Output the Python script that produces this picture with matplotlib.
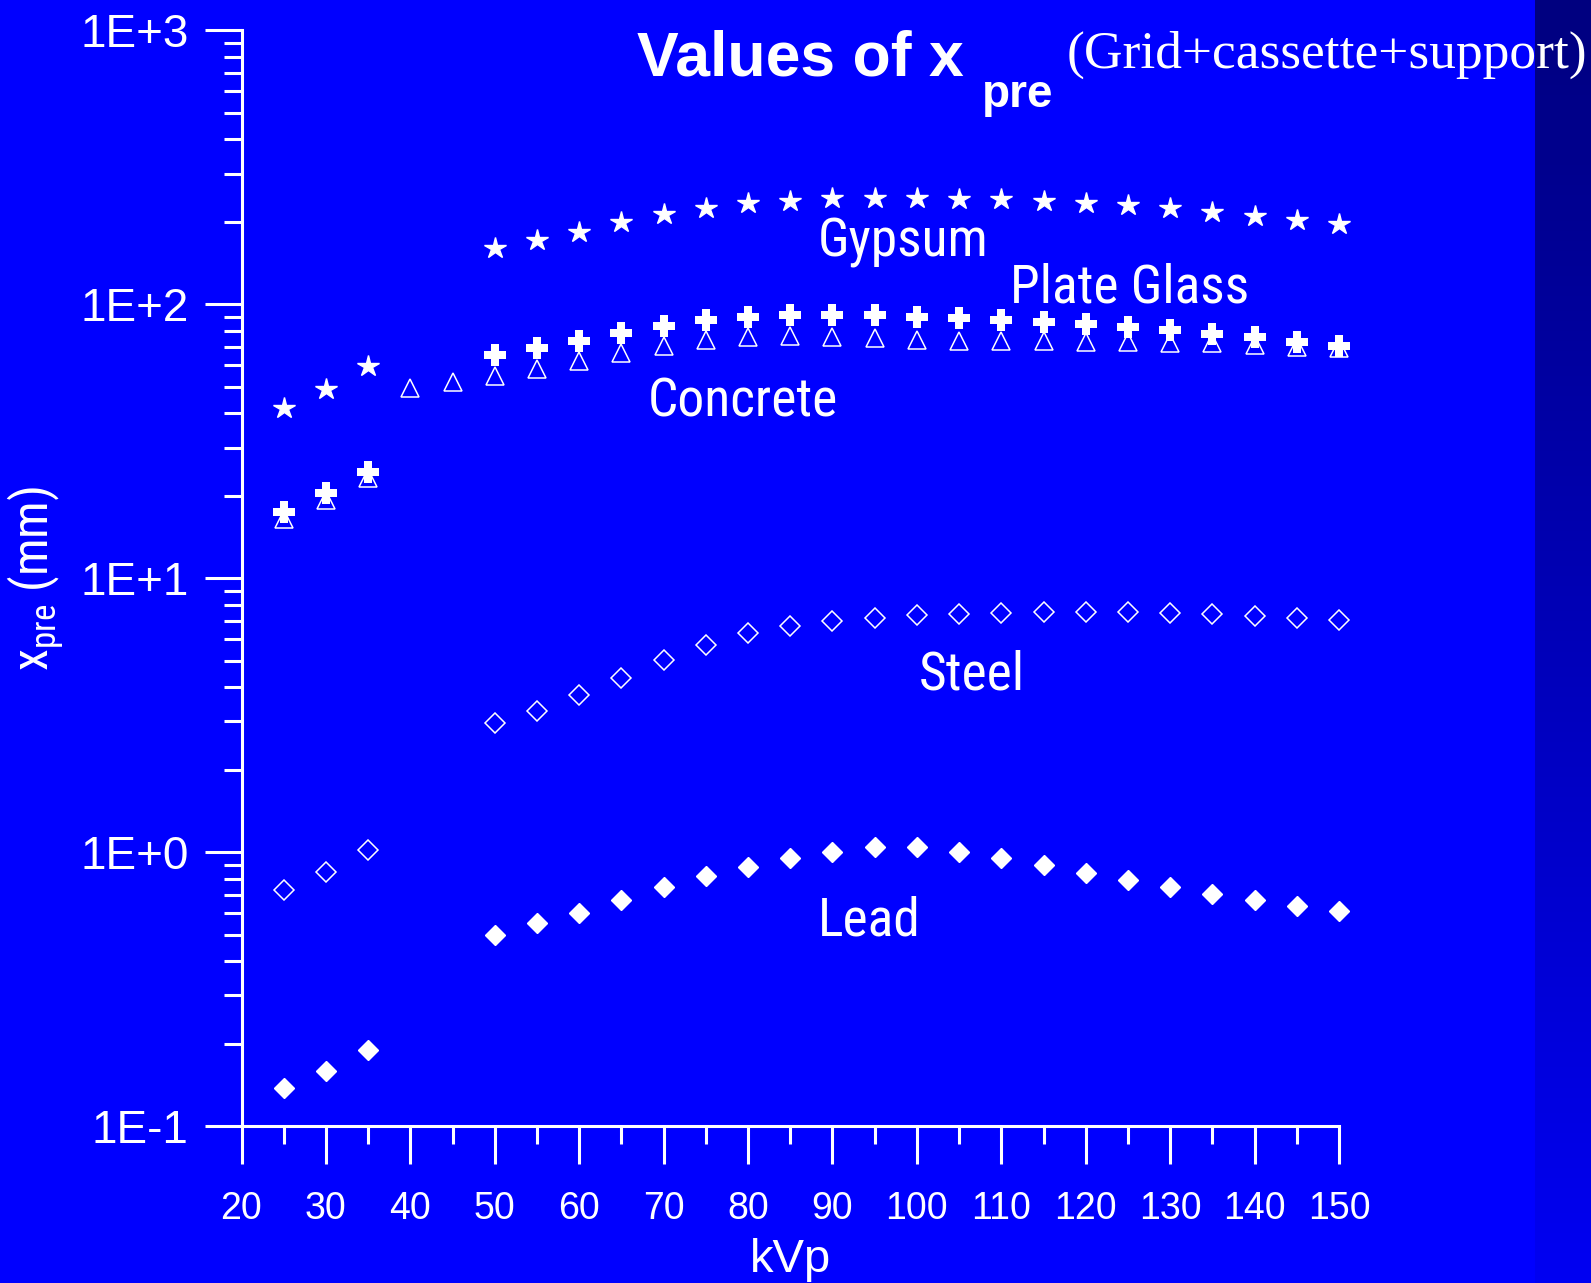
"""
Values of x_pre (grid + cassette + support) versus kVp for five
shielding materials, log scale, white on blue slide style.
Saves out.png
"""

import numpy as np
import matplotlib
matplotlib.use("Agg")
import matplotlib.pyplot as plt
from matplotlib import font_manager
from matplotlib.ticker import FixedLocator, NullFormatter

# ── data ────────────────────────────────────────────────────────────────────
kvp_low  = [25, 30, 35]
kvp_high = [50, 55, 60, 65, 70, 75, 80, 85, 90, 95, 100,
            105, 110, 115, 120, 125, 130, 135, 140, 145, 150]
kvp_concrete = [25, 30, 35, 40, 45, 50, 55, 60, 65, 70, 75, 80, 85, 90, 95,
                100, 105, 110, 115, 120, 125, 130, 135, 140, 145, 150]

gypsum_low  = [41.7, 49.1, 59.7]
gypsum_high = [160, 171, 184, 199, 213, 225, 234, 239, 244, 244, 244,
               242, 242, 239, 235, 230, 224, 218, 210, 203, 196]

glass_low  = [17.5, 20.4, 24.5]
glass_high = [65.3, 69.0, 73.6, 78.8, 83.5, 87.6, 90.2, 91.4, 91.4, 91.4, 90.2,
              89.0, 87.6, 86.5, 84.7, 82.8, 80.5, 77.9, 75.9, 72.7, 70.6]

concrete = [16.4, 19.3, 23.2, 49.3, 51.9, 54.7, 58.0, 62.1, 66.6, 70.6, 74.1,
            76.2, 76.6, 75.9, 75.2, 74.1, 73.6, 73.3, 73.3, 72.9, 72.9, 72.5,
            72.0, 71.0, 70.0, 69.0]

steel_low  = [0.727, 0.848, 1.018]
steel_high = [2.95, 3.28, 3.75, 4.33, 5.03, 5.70, 6.29, 6.71, 7.00, 7.17, 7.34,
              7.38, 7.45, 7.51, 7.55, 7.55, 7.48, 7.40, 7.28, 7.17, 7.03]

lead_low  = [0.138, 0.159, 0.189]
lead_high = [0.50, 0.549, 0.600, 0.668, 0.745, 0.817, 0.884, 0.948, 1.00, 1.04, 1.04,
             1.00, 0.953, 0.896, 0.840, 0.788, 0.745, 0.704, 0.671, 0.638, 0.608]

x_ticks       = [20, 30, 40, 50, 60, 70, 80, 90, 100, 110, 120, 130, 140, 150]
x_minor_ticks = [25, 35, 45, 55, 65, 75, 85, 95, 105, 115, 125, 135, 145]
y_ticks       = [0.1, 1, 10, 100, 1000]
y_tick_labels = ["1E-1", "1E+0", "1E+1", "1E+2", "1E+3"]

# name, x, y (data coords, left / baseline)
material_labels = [
    ("Gypsum",      88.3, 150),
    ("Plate Glass", 111.0, 101.6),
    ("Concrete",    68.1, 39.1),
    ("Steel",       100.2, 3.91),
    ("Lead",        88.3, 0.495),
]

# ── style ───────────────────────────────────────────────────────────────────
BLUE  = "#0000FF"
WHITE = "white"
SANS  = "Liberation Sans"
SERIF = "Liberation Serif"

_names = {f.name for f in font_manager.fontManager.ttflist}
NARROW = SANS
for cand in ["Liberation Sans Narrow", "Arial Narrow", "Roboto Condensed"]:
    if cand in _names:
        NARROW = cand
        break

plt.rcParams["font.family"] = [SANS, "DejaVu Sans"]
plt.rcParams["mathtext.fontset"] = "custom"
plt.rcParams["mathtext.rm"] = NARROW
plt.rcParams["mathtext.it"] = NARROW

W, H = 1591, 1283
fig = plt.figure(figsize=(W / 100, H / 100), dpi=100, facecolor=BLUE)

# darker strip on the right edge, vertical gradient
strip = fig.add_axes([1535 / W, 0, 1 - 1535 / W, 1])
grad = np.linspace(0, 1, 256).reshape(-1, 1)
top_c, bot_c = np.array([0, 0, 0.50]), np.array([0, 0, 0.95])
img = top_c + grad[..., None] * (bot_c - top_c)
strip.imshow(img, aspect="auto", extent=[0, 1, 0, 1], origin="upper")
strip.set_axis_off()

ax = fig.add_axes([241.5 / W, (H - 1126) / H, 1097.5 / W, 1095.6 / H])
ax.set_facecolor(BLUE)
ax.set_yscale("log")
ax.set_xlim(20, 150)
ax.set_ylim(0.1, 1000)

for s in ["top", "right"]:
    ax.spines[s].set_visible(False)
for s in ["left", "bottom"]:
    ax.spines[s].set_color(WHITE)
    ax.spines[s].set_linewidth(2.2)

ax.xaxis.set_major_locator(FixedLocator(x_ticks))
ax.xaxis.set_minor_locator(FixedLocator(x_minor_ticks))
ax.set_xticklabels([str(v) for v in x_ticks])
ax.yaxis.set_major_locator(FixedLocator(y_ticks))
minor_y = [m * 10.0 ** e for e in range(-1, 3) for m in range(2, 10)]
ax.yaxis.set_minor_locator(FixedLocator(minor_y))
ax.yaxis.set_minor_formatter(NullFormatter())
ax.set_yticklabels(y_tick_labels)

ax.tick_params(which="major", length=27, width=2.2, color=WHITE, direction="out")
ax.tick_params(which="minor", length=13.0, width=2.2, color=WHITE, direction="out")
ax.tick_params(axis="y", which="major", labelsize=33, labelcolor=WHITE, pad=11)
ax.tick_params(axis="x", which="major", labelsize=27, labelcolor=WHITE, pad=20)

# ── markers ─────────────────────────────────────────────────────────────────
open_kw = dict(linestyle="none", markerfacecolor="none", markeredgecolor=WHITE,
               markeredgewidth=1.1, clip_on=False)
fill_kw = dict(linestyle="none", color=WHITE, clip_on=False)

ax.plot(kvp_concrete, concrete, marker="^", markersize=13, **open_kw)
ax.plot(kvp_low, gypsum_low, marker="*", markersize=16, **fill_kw)
ax.plot(kvp_high, gypsum_high, marker="*", markersize=16, **fill_kw)
ax.plot(kvp_low, glass_low, marker="P", markersize=16, markeredgewidth=0, **fill_kw)
ax.plot(kvp_high, glass_high, marker="P", markersize=16, markeredgewidth=0, **fill_kw)
ax.plot(kvp_low, steel_low, marker="D", markersize=10, **open_kw)
ax.plot(kvp_high, steel_high, marker="D", markersize=10, **open_kw)
ax.plot(kvp_low, lead_low, marker="D", markersize=10, **fill_kw)
ax.plot(kvp_high, lead_high, marker="D", markersize=10, **fill_kw)

for name, x, y in material_labels:
    ax.text(x, y, name, color=WHITE, fontsize=38.5, family=NARROW,
            ha="left", va="baseline")

# ── labels ──────────────────────────────────────────────────────────────────
ax.set_xlabel("kVp", color=WHITE, fontsize=34)
ax.xaxis.set_label_coords(0.5, -0.133)
ax.xaxis.label.set_verticalalignment("baseline")

ax.set_ylabel(r"x$_{\mathrm{pre}}$ (mm)", color=WHITE, fontsize=36, family=NARROW)
ax.yaxis.set_label_coords(-0.1877, 0.5)
ax.yaxis.label.set_verticalalignment("center")

fig.text(637 / W, 1 - 76 / H, "Values of x", color=WHITE, fontsize=45,
         fontweight="bold", ha="left", va="baseline")
fig.text(982 / W, 1 - 107 / H, "pre", color=WHITE, fontsize=33,
         fontweight="bold", ha="left", va="baseline")
fig.text(1067 / W, 1 - 68 / H, "(Grid+cassette+support)", color=WHITE,
         fontsize=38.5, family=SERIF, ha="left", va="baseline")

fig.savefig("out.png", dpi=100, facecolor=BLUE)
